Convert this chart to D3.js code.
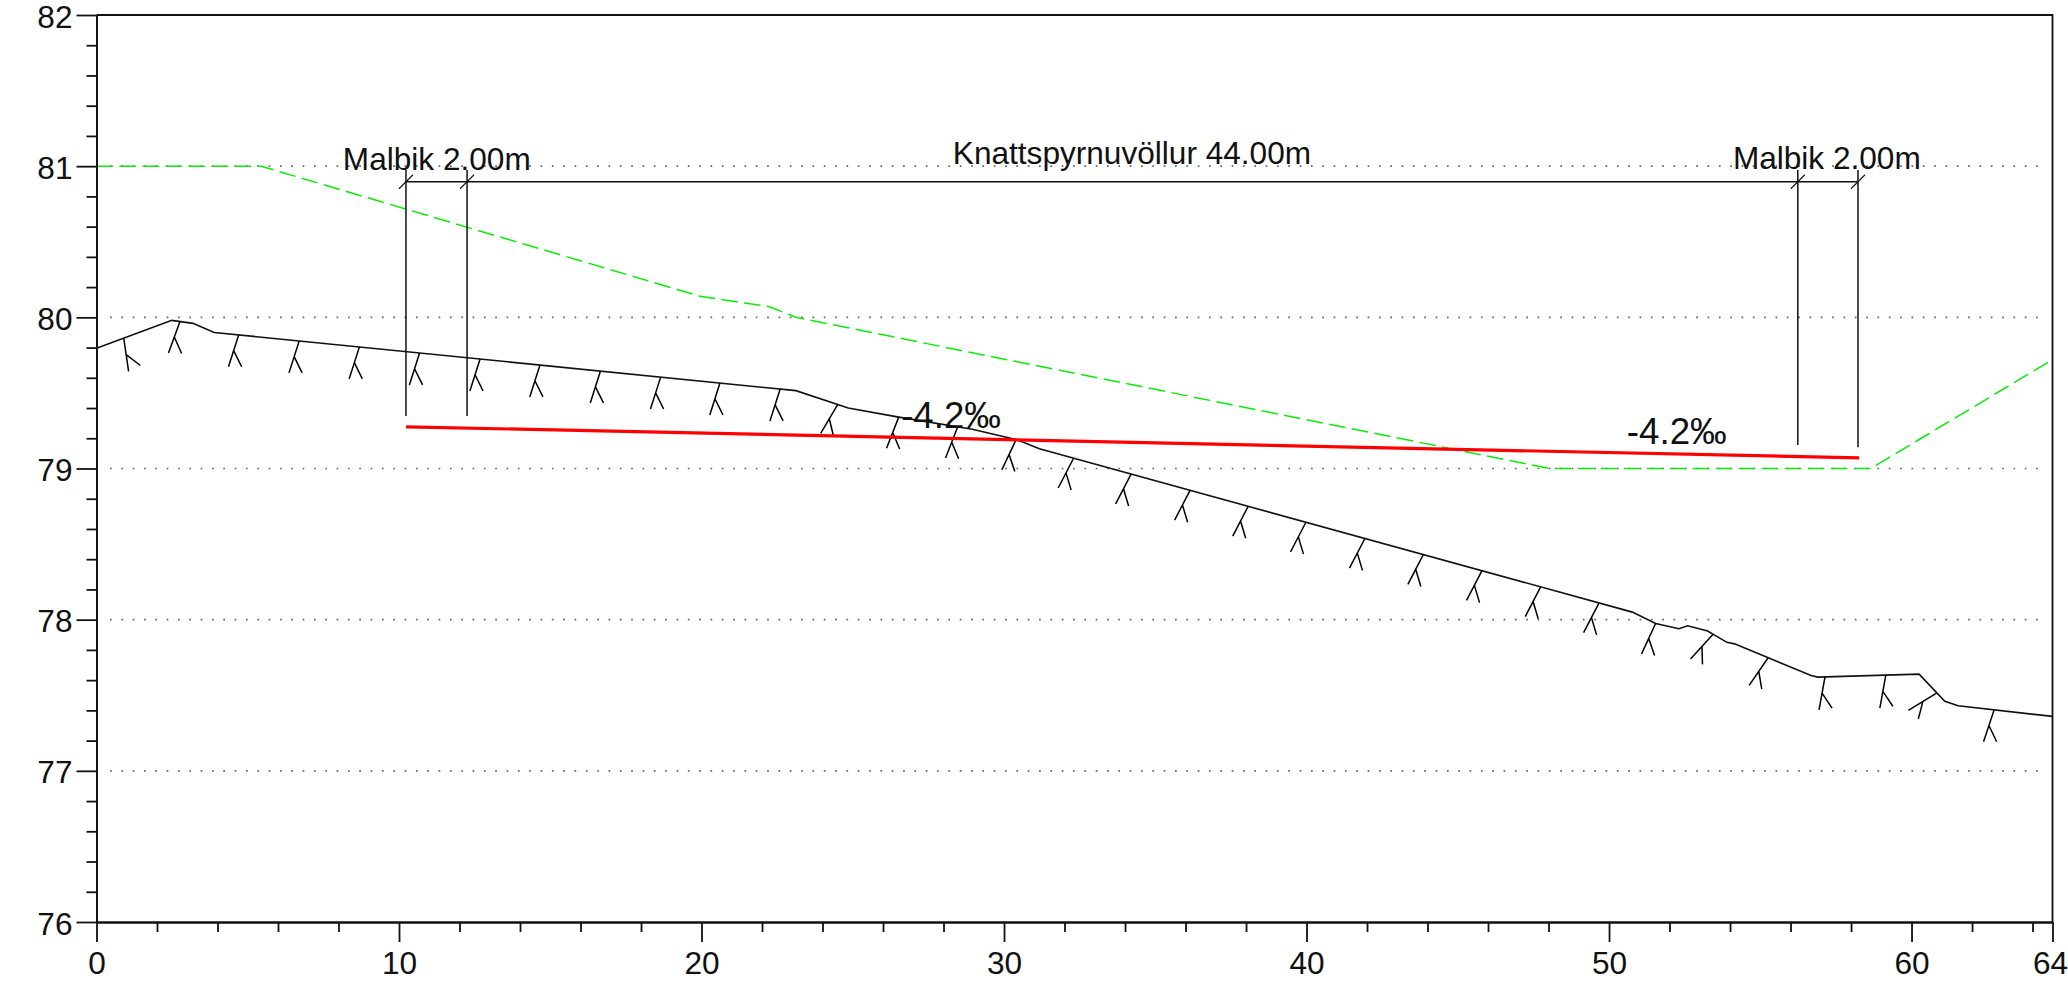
<!DOCTYPE html>
<html>
<head>
<meta charset="utf-8">
<script src="https://cdn.jsdelivr.net/npm/d3@7"></script>
<style>
  html, body { margin: 0; padding: 0; background: #fff; overflow: hidden; }
  svg { display: block; }
  text { font-family: "Liberation Sans", Arial, sans-serif; fill: #111; }
</style>
</head>
<body>
<script>
// ground profile
var groundX = [0, 2.49, 3.19, 3.89, 23.12, 24.85, 26.52, 28.95, 30.43, 31.17, 50.77, 51.54, 52.31, 52.6, 53.26, 53.9, 54.15, 56.68, 56.9, 60.25, 61.1, 61.54, 64.66];
var groundY = [79.795, 79.98, 79.96, 79.9, 79.515, 79.4, 79.34, 79.26, 79.19, 79.13, 78.05, 77.975, 77.94, 77.96, 77.925, 77.85, 77.84, 77.63, 77.62, 77.64, 77.46, 77.43, 77.36];

// stations where the little ground marks sit
var markX = [0.9, 2.76, 4.7, 6.7, 8.69, 10.68, 12.68, 14.66, 16.66, 18.65, 20.61, 22.6, 24.5, 26.52, 28.47, 30.4, 32.3, 34.2, 36.15, 38.07, 39.98, 41.93, 43.86, 45.8, 47.74, 49.67, 51.54, 53.44, 55.26, 57.14, 59.15, 60.84, 62.73];

// green design line
var greenX = [0, 5.44, 19.95, 22.25, 23.12, 48.04, 58.65, 64.66];
var greenY = [81, 81, 80.14, 80.07, 80, 79, 79, 79.72];

// red design line
var redX = [10.23, 58.27];
var redY = [79.276, 79.07];

// dimension lines
var dimStations = [10.23, 12.25, 56.24, 58.23];
var dimBottoms = [79.347, 79.347, 79.155, 79.14];
var dimTop = 80.975;
var dimLevel = 80.897;

var labelText = ["Malbik 2.00m", "Knattspyrnuvöllur 44.00m", "Malbik 2.00m"];
var labelX = [11.25, 34.23, 57.2];
var labelY = [80.975, 81.015, 80.98];

var slopeText = ["-4.2‰", "-4.2‰"];
var slopeX = [26.6, 50.59];
var slopeY = [79.268, 79.16];

// axes
var xMajor = [0, 10, 20, 30, 40, 50, 60, 64.66];
var xMinor = [2, 4, 6, 8, 12, 14, 16, 18, 22, 24, 26, 28, 32, 34, 36, 38, 42, 44, 46, 48, 52, 54, 56, 58, 62, 64];
var xLabels = ["0", "10", "20", "30", "40", "50", "60", "64"];
var yMajor = [76, 77, 78, 79, 80, 81, 82];
var yMinor = [76.2, 76.4, 76.6, 76.8, 77.2, 77.4, 77.6, 77.8, 78.2, 78.4, 78.6, 78.8, 79.2, 79.4, 79.6, 79.8, 80.2, 80.4, 80.6, 80.8, 81.2, 81.4, 81.6, 81.8];
var gridLevels = [77, 78, 79, 80, 81];

window.onload = () => {

  var width = 2068, height = 990;

  var x = d3.scaleLinear().domain([0, 64.66]).range([96.5, 2052.5]);
  var y = d3.scaleLinear().domain([76, 82]).range([922, 15]);

  var svg = d3.select("body").append("svg")
    .attr("width", width)
    .attr("height", height);

  // dotted grid
  svg.selectAll(".grid")
    .data(gridLevels)
    .enter().append("line")
    .attr("class", "grid")
    .attr("x1", 110)
    .attr("x2", 2041)
    .attr("y1", d => y(d))
    .attr("y2", d => y(d))
    .attr("stroke", "#666")
    .attr("stroke-width", 1.7)
    .attr("stroke-dasharray", "1.7 9.63");

  var line = d3.line().x(d => x(d[0])).y(d => y(d[1]));
  var zip = (a, b) => a.map((v, i) => [v, b[i]]);

  // green line
  svg.append("path")
    .attr("d", line(zip(greenX, greenY)))
    .attr("fill", "none")
    .attr("stroke", "#0bea0b")
    .attr("stroke-width", 1.5)
    .attr("stroke-dasharray", "16.5 6.5");

  // ground line
  svg.append("path")
    .attr("d", line(zip(groundX, groundY)))
    .attr("fill", "none")
    .attr("stroke", "#111")
    .attr("stroke-width", 1.6);

  // ground marks: tail + fork, turned with the local slope
  var groundAt = d3.scaleLinear().domain(groundX).range(groundY);
  var marks = svg.append("g")
    .attr("fill", "none")
    .attr("stroke", "#000")
    .attr("stroke-width", 1.5);

  markX.forEach(function (s) {
    var i = Math.min(d3.bisectRight(groundX, s), groundX.length - 1);
    var dx = x(groundX[i]) - x(groundX[i - 1]);
    var dy = y(groundY[i]) - y(groundY[i - 1]);
    var a = Math.atan2(dy, dx) + 12 * Math.PI / 180;
    var px = x(s), py = y(groundAt(s));
    var jx = px - 16.5 * Math.sin(a), jy = py + 16.5 * Math.cos(a);
    var lx = jx - 17 * Math.sin(a), ly = jy + 17 * Math.cos(a);
    var b = a - 44 * Math.PI / 180;
    var rx = jx - 18 * Math.sin(b), ry = jy + 18 * Math.cos(b);
    marks.append("path")
      .attr("d", "M" + px + "," + py + "L" + lx + "," + ly + "M" + jx + "," + jy + "L" + rx + "," + ry);
  });

  // red line
  svg.append("path")
    .attr("d", line(zip(redX, redY)))
    .attr("fill", "none")
    .attr("stroke", "#ff0000")
    .attr("stroke-width", 3.2);

  // dimension lines
  var dims = svg.append("g").attr("stroke", "#111").attr("stroke-width", 1.5);
  dims.append("line")
    .attr("x1", x(dimStations[0]))
    .attr("x2", x(dimStations[3]))
    .attr("y1", y(dimLevel))
    .attr("y2", y(dimLevel));
  dims.selectAll(".ext")
    .data(dimStations)
    .enter().append("line")
    .attr("class", "ext")
    .attr("x1", d => x(d))
    .attr("x2", d => x(d))
    .attr("y1", y(dimTop))
    .attr("y2", (d, i) => y(dimBottoms[i]));
  dims.selectAll(".slash")
    .data(dimStations)
    .enter().append("line")
    .attr("class", "slash")
    .attr("stroke-width", 1.1)
    .attr("x1", d => x(d) - 7)
    .attr("x2", d => x(d) + 7)
    .attr("y1", y(dimLevel) + 7)
    .attr("y2", y(dimLevel) - 7);

  // labels
  svg.selectAll(".dimlabel")
    .data(labelText)
    .enter().append("text")
    .attr("class", "dimlabel")
    .attr("x", (d, i) => x(labelX[i]))
    .attr("y", (d, i) => y(labelY[i]))
    .attr("text-anchor", "middle")
    .attr("font-size", 31.6)
    .text(d => d);

  svg.selectAll(".slope")
    .data(slopeText)
    .enter().append("text")
    .attr("class", "slope")
    .attr("x", (d, i) => x(slopeX[i]))
    .attr("y", (d, i) => y(slopeY[i]))
    .attr("text-anchor", "start")
    .attr("font-size", 36.7)
    .text(d => d);

  // axes
  var styleAxis = function (g) {
    g.selectAll(".domain").attr("stroke", "#111").attr("stroke-width", 1.8);
    g.selectAll(".tick line").attr("stroke", "#111").attr("stroke-width", 1.8);
    g.selectAll(".tick text")
      .attr("font-family", '"Liberation Sans", Arial, sans-serif')
      .attr("font-size", 31.6)
      .attr("fill", "#111");
  };

  svg.append("g")
    .attr("transform", "translate(0," + y(76) + ")")
    .call(d3.axisBottom(x).tickValues(xMinor).tickSize(10).tickSizeOuter(0).tickFormat(""))
    .call(styleAxis);

  var xAxisMajor = svg.append("g")
    .attr("transform", "translate(0," + y(76) + ")")
    .call(d3.axisBottom(x).tickValues(xMajor).tickSize(20).tickSizeOuter(0).tickPadding(10)
      .tickFormat((d, i) => xLabels[i]))
    .call(styleAxis);

  // last label would run off the page
  xAxisMajor.selectAll(".tick:last-of-type text").attr("dx", -2.5);

  svg.append("g")
    .attr("transform", "translate(" + x(0) + ",0)")
    .call(d3.axisLeft(y).tickValues(yMinor).tickSize(10).tickSizeOuter(0).tickFormat(""))
    .call(styleAxis);

  svg.append("g")
    .attr("transform", "translate(" + x(0) + ",0)")
    .call(d3.axisLeft(y).tickValues(yMajor).tickSize(20).tickSizeOuter(0).tickPadding(4)
      .tickFormat(d3.format("d")))
    .call(styleAxis)
    .selectAll(".tick text")
    .attr("dy", "0.38em");

  // top and right border
  svg.append("path")
    .attr("d", "M" + x(0) + "," + y(82) + "H" + x(64.66) + "V" + y(76))
    .attr("fill", "none")
    .attr("stroke", "#111")
    .attr("stroke-width", 1.8);

};
</script>
</body>
</html>
